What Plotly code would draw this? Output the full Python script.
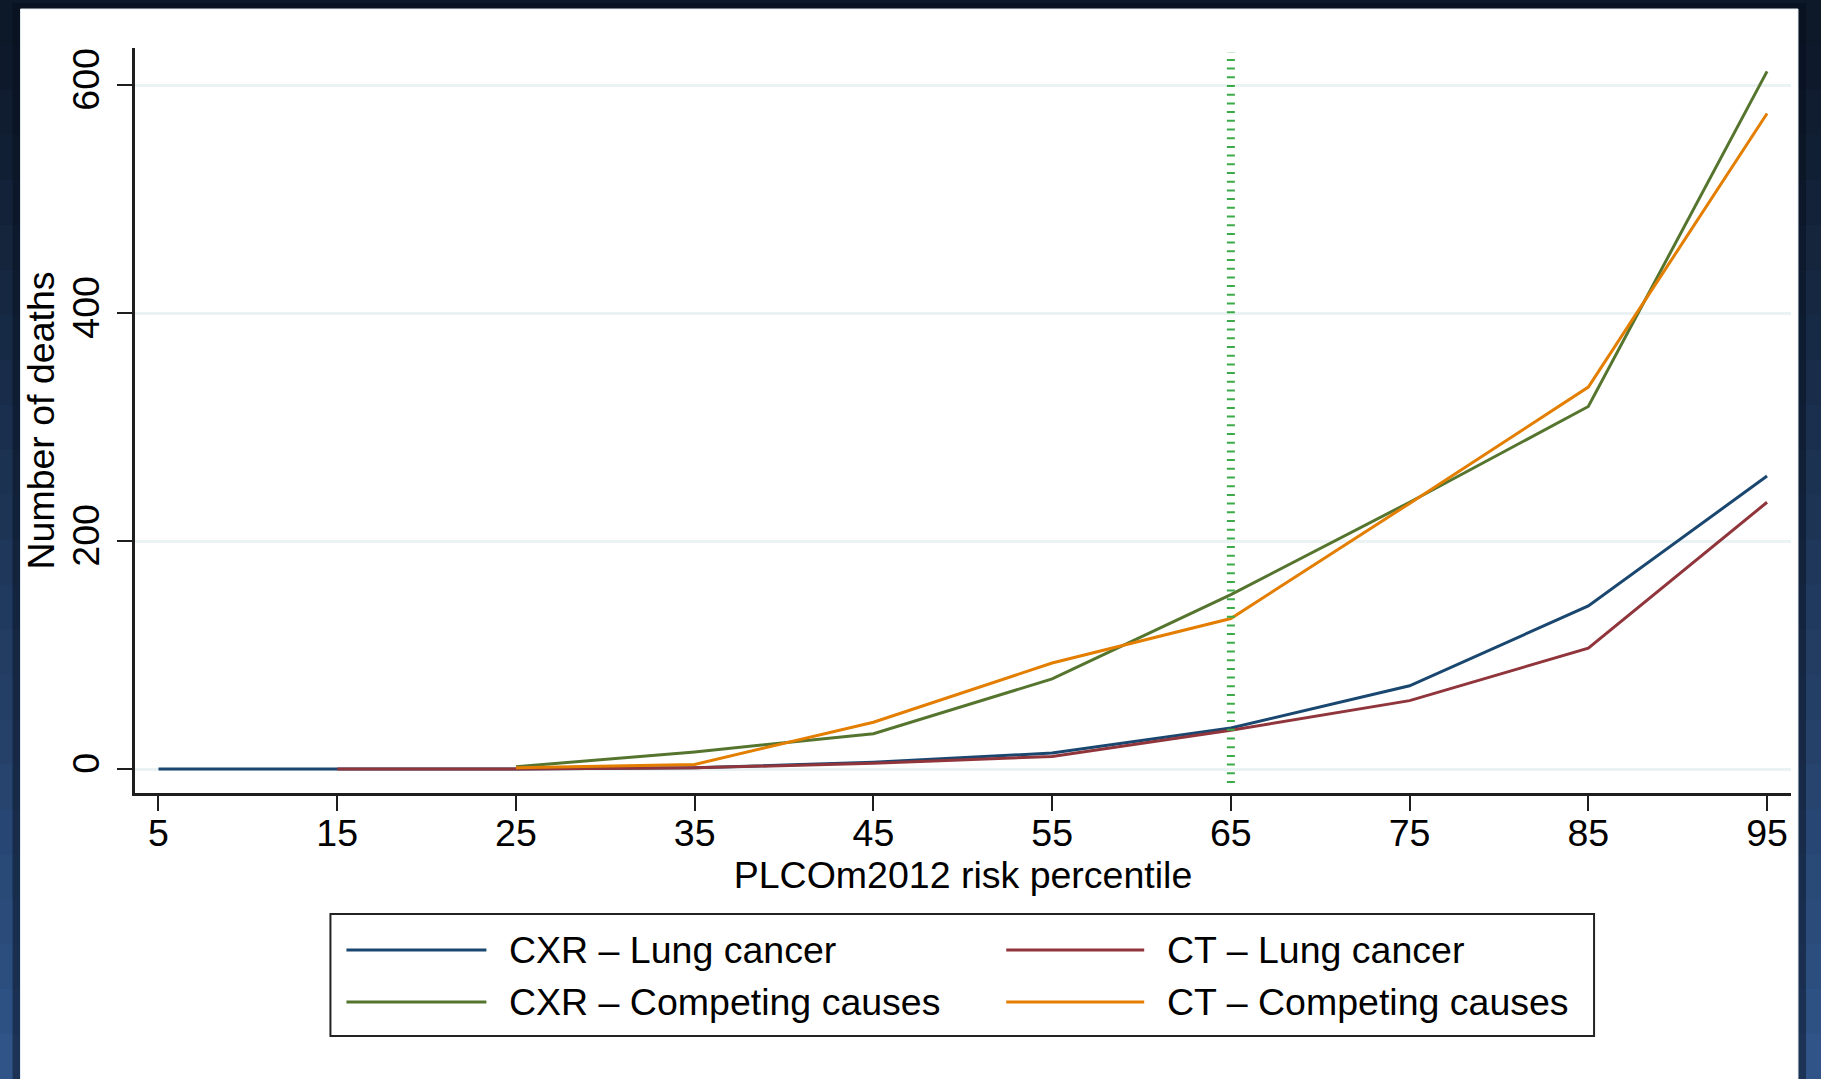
import plotly.graph_objects as go

# ---------------- data ----------------
percentile = [5, 15, 25, 35, 45, 55, 65, 75, 85, 95]
cxr_lung = [0, 0, 0, 1, 6, 14, 36, 73, 143, 257]
ct_lung = [None, 0, 0, 1, 5, 11, 34, 60, 106, 234]
cxr_comp = [None, None, 2, 15, 31, 79, 153, 234, 318, 612]
ct_comp = [None, None, 1, 4, 41, 93, 132, 233, 335, 575]

series_names = ["CXR \u2013 Lung cancer", "CT \u2013 Lung cancer",
                "CXR \u2013 Competing causes", "CT \u2013 Competing causes"]
series_values = [cxr_lung, ct_lung, cxr_comp, ct_comp]
series_colors = ["#1a476f", "#90353b", "#55752f", "#e37e00"]

y_ticks = [0, 200, 400, 600]
cutoff = 65
x_title = "PLCOm2012 risk percentile"
y_title = "Number of deaths"

# ---------------- geometry ----------------
W, H = 1821, 1079
L, R, T, B = 134.5, 1791, 48, 793
FONT = "Liberation Sans, Arial, Helvetica, sans-serif"
FS = 37.5


def px(xp):
    return (xp - L) / (R - L)


def py(yp):
    return (B - yp) / (B - T)


fig = go.Figure()
for name, vals, col in zip(series_names, series_values, series_colors):
    fig.add_trace(go.Scatter(x=percentile, y=vals, mode="lines", name=name,
                             line=dict(color=col, width=3), showlegend=False,
                             connectgaps=False))

shapes = []
# background gradient
n = 24
c0 = (13, 24, 40)
c1 = (48, 84, 136)
for i in range(n):
    t = i / (n - 1)
    c = tuple(int(c0[k] + (c1[k] - c0[k]) * t) for k in range(3))
    y0p = i * H / n
    y1p = (i + 1) * H / n + 1
    shapes.append(dict(type="rect", xref="paper", yref="paper",
                       x0=px(-5), x1=px(W + 5), y0=py(y1p), y1=py(y0p),
                       fillcolor="rgb(%d,%d,%d)" % c, line=dict(width=0),
                       layer="below"))
# shadow
shapes.append(dict(type="rect", xref="paper", yref="paper",
                   x0=px(12), x1=px(1806), y0=py(H + 20), y1=py(3),
                   fillcolor="rgba(5,12,25,0.45)", line=dict(width=0), layer="below"))
# white panel
shapes.append(dict(type="rect", xref="paper", yref="paper",
                   x0=px(20), x1=px(1798), y0=py(H + 20), y1=py(9),
                   fillcolor="white", line=dict(color="#e6eef2", width=1), layer="below"))
# cutoff line
shapes.append(dict(type="line", xref="x", yref="paper", x0=cutoff, x1=cutoff,
                   y0=py(783), y1=py(52),
                   line=dict(color="#3caa48", width=8, dash="2px,6.7px")))

# custom legend
shapes.append(dict(type="rect", xref="paper", yref="paper",
                   x0=px(330), x1=px(1594), y0=py(1036), y1=py(914),
                   fillcolor="white", line=dict(color="#222222", width=2)))
annotations = []
cols_x = [(346, 486, 506.5), (1006, 1144, 1165)]
rows_y = [950, 1002]
order = [(0, 0, 0), (1, 0, 1), (2, 1, 0), (3, 1, 1)]
for idx, r, c in order:
    xa, xb, xt = cols_x[c]
    yy = rows_y[r]
    shapes.append(dict(type="line", xref="paper", yref="paper",
                       x0=px(xa), x1=px(xb), y0=py(yy), y1=py(yy),
                       line=dict(color=series_colors[idx], width=3)))
    annotations.append(dict(xref="paper", yref="paper", x=px(xt), y=py(yy),
                            text=series_names[idx], showarrow=False,
                            xanchor="left", yanchor="middle",
                            font=dict(family=FONT, size=FS, color="black")))

fig.update_layout(
    width=W, height=H,
    margin=dict(l=L, r=W - R, t=T, b=H - B, pad=0),
    paper_bgcolor="#1d3658", plot_bgcolor="white",
    font=dict(family=FONT, size=FS, color="black"),
    shapes=shapes, annotations=annotations, showlegend=False,
)
fig.update_xaxes(range=[3.686, 96.34], tickvals=percentile,
                 ticktext=[str(v) for v in percentile],
                 showgrid=False, zeroline=False,
                 showline=True, linecolor="#1e1e1e", linewidth=2.5,
                 ticks="outside", ticklen=15, tickwidth=2, tickcolor="#1e1e1e",
                 ticklabelstandoff=-10,
                 tickfont=dict(family=FONT, size=FS),
                 title=dict(text=x_title, standoff=2, font=dict(family=FONT, size=FS)))
fig.update_yaxes(range=[-21.05, 632.5], tickvals=y_ticks,
                 ticktext=[str(v) for v in y_ticks], tickangle=-90,
                 showgrid=True, gridcolor="#eaf2f3", gridwidth=2.5,
                 zeroline=False,
                 showline=True, linecolor="#1e1e1e", linewidth=2.5,
                 ticks="outside", ticklen=15, tickwidth=2, tickcolor="#1e1e1e",
                 ticklabelstandoff=3,
                 tickfont=dict(family=FONT, size=FS),
                 title=dict(text=y_title, standoff=0, font=dict(family=FONT, size=FS)))

fig.write_html("out.html", config={"displayModeBar": False},
               post_script="document.body.style.margin='0';document.body.style.overflow='hidden';")
